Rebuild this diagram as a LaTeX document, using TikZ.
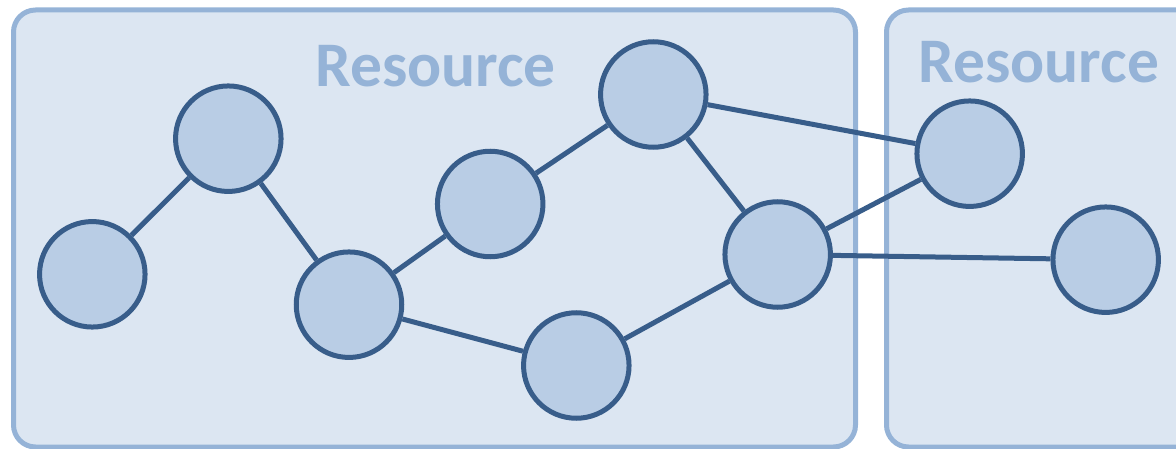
\documentclass[tikz,border=0pt]{standalone}
\usepackage{fontspec}
\setmainfont{Carlito}
\definecolor{boxline}{HTML}{95B3D7}
\definecolor{boxfill}{HTML}{DCE6F2}
\definecolor{nodefill}{HTML}{B9CDE5}
\definecolor{nodeline}{HTML}{385D8A}
\begin{document}
\begin{tikzpicture}[x=1pt,y=-1pt,
  resbox/.style={draw=boxline,fill=boxfill,line width=5pt,rounded corners=22pt},
  restitle/.style={anchor=base,text=boxline,font=\fontsize{63.5}{63.5}\selectfont\bfseries,inner sep=0pt},
  vert/.style={circle,draw=nodeline,fill=nodefill,line width=5pt,minimum size=105.5pt,inner sep=0pt},
  link/.style={draw=nodeline,line width=5pt}]
\useasboundingbox (0,0) rectangle (1176,449);
\clip (0,0) rectangle (1176,449);
\draw[resbox] (13.5,10) rectangle (855.5,447);
\draw[resbox] (886.5,10) rectangle (1230,447);
\node[restitle] (t1) at (435.5,87) {Resource};
\node[restitle] (t2) at (1038.8,83) {Resource};
\node[vert] (a) at (92.3,274.3) {};
\node[vert] (b) at (228.3,138.7) {};
\node[vert] (c) at (349,304.7) {};
\node[vert] (d) at (490.2,204) {};
\node[vert] (e) at (653.3,94.5) {};
\node[vert] (f) at (777.7,254.5) {};
\node[vert] (g) at (576.3,365.5) {};
\node[vert] (h) at (969.7,153.7) {};
\node[vert] (i) at (1105.7,259.7) {};
\draw[link] (a) -- (b);
\draw[link] (b) -- (c);
\draw[link] (c) -- (d);
\draw[link] (c) -- (g);
\draw[link] (d) -- (e);
\draw[link] (e) -- (f);
\draw[link] (e) -- (h);
\draw[link] (f) -- (h);
\draw[link] (f) -- (i);
\draw[link] (g) -- (f);
\end{tikzpicture}
\end{document}
